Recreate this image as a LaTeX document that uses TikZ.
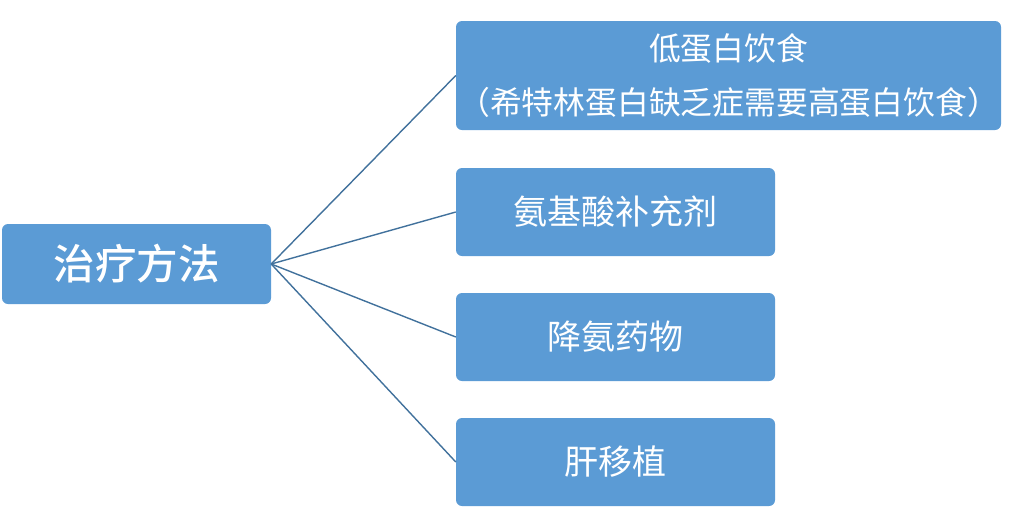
\documentclass[tikz,border=0pt]{standalone}
\usepackage{fontspec}
\newfontfamily\cjk{Noto Sans CJK SC}
\newfontfamily\cjkb{Noto Sans CJK SC Medium}
\definecolor{boxblue}{HTML}{5B9BD5}
\definecolor{lineblue}{HTML}{41719C}
\begin{document}
\begin{tikzpicture}[x=1pt,y=-1pt,
  tbox/.style={fill=boxblue,draw=none,rounded corners=6pt,text=white,inner sep=0pt,align=center},
  conn/.style={draw=lineblue,line width=1.4pt}]
\useasboundingbox (0,0) rectangle (1034,528);
\node[tbox,minimum width=269pt,minimum height=80pt,font=\cjkb\fontsize{41.5}{48}\selectfont] (root) at (136.5,264) {治疗方法};
\node[tbox,text width=545pt,minimum height=109pt,font=\cjk\fontsize{31.8}{54}\selectfont] (a) at (728.5,75.5) {低蛋白饮食\\（希特林蛋白缺乏症需要高蛋白饮食）};
\node[tbox,minimum width=319pt,minimum height=88pt,font=\cjk\fontsize{34}{40}\selectfont] (b) at (615.5,212) {氨基酸补充剂};
\node[tbox,minimum width=319pt,minimum height=88pt,font=\cjk\fontsize{34}{40}\selectfont] (c) at (615.5,337) {降氨药物};
\node[tbox,minimum width=319pt,minimum height=88pt,font=\cjk\fontsize{34}{40}\selectfont] (d) at (615.5,462) {肝移植};
\foreach \t in {a,b,c,d} \draw[conn] (root.east) -- (\t.west);
\end{tikzpicture}
\end{document}
